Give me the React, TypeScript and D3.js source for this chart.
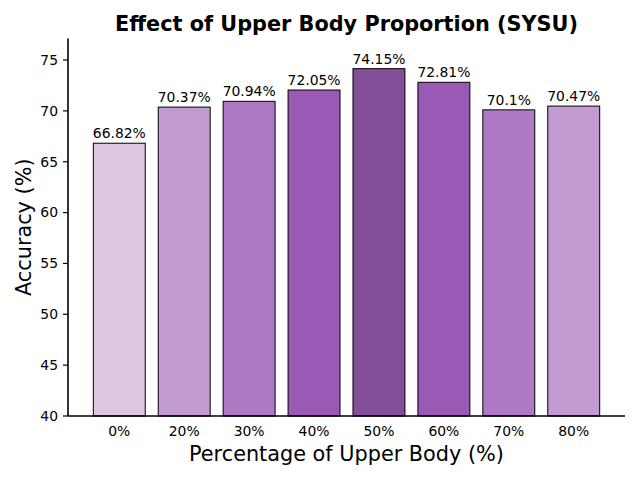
import React from "react";
import * as d3 from "d3";

const categories = ["0%", "20%", "30%", "40%", "50%", "60%", "70%", "80%"];
const accuracy = [66.82, 70.37, 70.94, 72.05, 74.15, 72.81, 70.1, 70.47];
const barLabels = ["66.82%", "70.37%", "70.94%", "72.05%", "74.15%", "72.81%", "70.1%", "70.47%"];
const colors = ["#dcc6e0", "#c39bd3", "#af7ac5", "#9b59b6", "#834f9b", "#9b59b6", "#af7ac5", "#c39bd3"];
const yTicks = [40, 45, 50, 55, 60, 65, 70, 75];

const W = 640, H = 480;
const left = 68, right = 625, top = 38.5, bottom = 416;
const font = "DejaVu Sans, sans-serif";

export default function App() {
  const x = d3.scaleLinear().domain([-0.79, categories.length - 1 + 0.79]).range([left, right]);
  const y = d3.scaleLinear().domain([40, 74.15 * 1.04]).range([bottom, top]);
  const bw = x(0.4) - x(-0.4);
  return (
    <svg width={W} height={H} style={{ position: "absolute", left: 0, top: 0, background: "#fff" }} fontFamily={font}>
      <rect x={0} y={0} width={W} height={H} fill="#fff" />
      {accuracy.map((v, i) => (
        <g key={i}>
          <rect x={x(i) - bw / 2} y={y(v)} width={bw} height={bottom - y(v)} fill={colors[i]} stroke="#000" strokeWidth={1} />
          <text x={x(i)} y={y(v) - 5} textAnchor="middle" fontSize={13.9} fill="#000">{barLabels[i]}</text>
          <text x={x(i)} y={436} textAnchor="middle" fontSize={13.9} fill="#000">{categories[i]}</text>
        </g>
      ))}
      {yTicks.map((t) => (
        <g key={t}>
          <line x1={left - 5} x2={left} y1={y(t)} y2={y(t)} stroke="#000" strokeWidth={1.2} />
          <text x={left - 10} y={y(t)} dy="0.35em" textAnchor="end" fontSize={13.9} fill="#000">{t}</text>
        </g>
      ))}
      <line x1={left} x2={left} y1={top} y2={bottom} stroke="#000" strokeWidth={1.6} />
      <line x1={left} x2={right} y1={bottom} y2={bottom} stroke="#000" strokeWidth={1.6} />
      <text x={(left + right) / 2} y={31} textAnchor="middle" fontSize={20.8} fontWeight="bold" fill="#000">Effect of Upper Body Proportion (SYSU)</text>
      <text x={(left + right) / 2} y={461} textAnchor="middle" fontSize={20.8} fill="#000">Percentage of Upper Body (%)</text>
      <text transform={`translate(31, ${(top + bottom) / 2}) rotate(-90)`} textAnchor="middle" fontSize={20.8} fill="#000">Accuracy (%)</text>
    </svg>
  );
}
